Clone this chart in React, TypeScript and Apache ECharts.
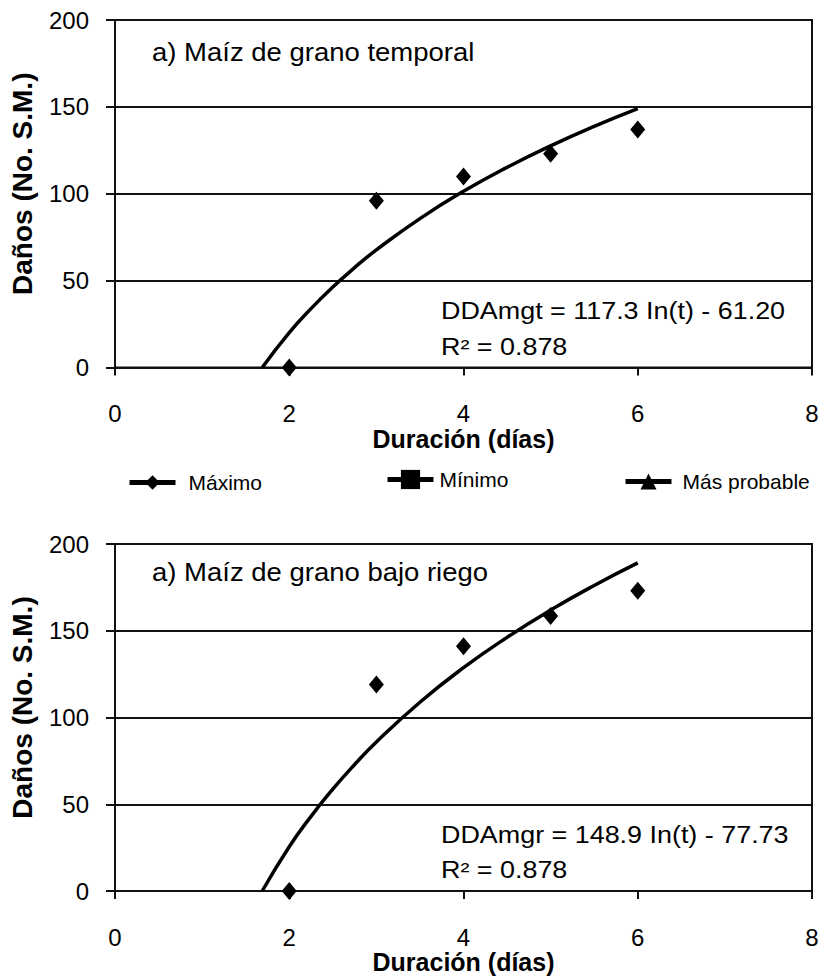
import React, { useEffect, useRef } from 'react';
import * as echarts from 'echarts';

// ---- data ----
const days = [2, 3, 4, 5, 6];
const maxTemporal = [0, 96, 110, 123, 137];
const maxRiego = [0, 119, 141, 158.5, 173];

// fitted trend curves
const trendDays = [1.69, 2, 2.25, 2.5, 2.75, 3, 3.5, 4, 4.5, 5, 5.5, 6];
const trendTemporal = [0, 20.1, 33.9, 46.3, 57.5, 67.7, 85.7, 101.4, 115.2, 127.6, 138.8, 149.0];
const trendRiego = [0, 25.5, 43.0, 58.7, 72.9, 85.9, 108.8, 128.7, 146.2, 161.9, 176.1, 189.1];

const legendNames = ['Máximo', 'Mínimo', 'Más probable'];
const panelTitles = ['a) Maíz de grano temporal', 'a) Maíz de grano bajo riego'];
const equations = ['DDAmgt = 117.3 In(t) - 61.20', 'DDAmgr = 148.9 In(t) - 77.73'];
const r2Labels = ['R² = 0.878', 'R² = 0.878'];
const xAxisTitle = 'Duración (días)';
const yAxisTitle = 'Daños (No. S.M.)';

const FONT = '"Liberation Sans", Arial, Helvetica, sans-serif';
const INK = '#111';

function makeX(gridIndex: number) {
  return {
    type: 'value',
    gridIndex,
    min: 0,
    max: 8,
    interval: 2,
    axisLine: { show: true, onZero: false, lineStyle: { color: INK, width: 2 } },
    axisTick: { show: true, inside: false, length: 8, lineStyle: { color: INK, width: 2 } },
    axisLabel: { margin: 34, fontSize: 24, color: '#000', fontFamily: FONT },
    splitLine: { show: false },
    name: xAxisTitle,
    nameLocation: 'middle',
    nameGap: 57,
    nameTextStyle: { fontSize: 25, fontWeight: 'bold', color: '#000', fontFamily: FONT },
  };
}

function makeY(gridIndex: number) {
  return {
    type: 'value',
    gridIndex,
    min: 0,
    max: 200,
    interval: 50,
    axisLine: { show: true, onZero: false, lineStyle: { color: INK, width: 2 } },
    axisTick: { show: true, inside: false, length: 9, lineStyle: { color: INK, width: 2 } },
    axisLabel: { margin: 26, fontSize: 24, color: '#000', fontFamily: FONT },
    splitLine: { show: true, lineStyle: { color: INK, width: 2 } },
    name: yAxisTitle,
    nameLocation: 'middle',
    nameGap: 79,
    nameRotate: 90,
    nameTextStyle: {
      fontSize: 28,
      fontWeight: 'bold',
      color: '#000',
      fontFamily: FONT,
      padding: [0, 0, 0, 20],
    },
  };
}

function maxSeries(idx: number, values: number[]) {
  return {
    name: legendNames[0],
    type: 'line',
    xAxisIndex: idx,
    yAxisIndex: idx,
    data: days.map((d, i) => [d, values[i]]),
    symbol: 'diamond',
    symbolSize: [15, 18],
    lineStyle: { width: 0, color: '#000' },
    itemStyle: { color: '#000' },
    clip: false,
    z: 4,
  };
}

function trendSeries(idx: number, values: number[]) {
  return {
    name: 'Tendencia ' + idx,
    type: 'line',
    xAxisIndex: idx,
    yAxisIndex: idx,
    data: trendDays.map((d, i) => [d, values[i]]),
    showSymbol: false,
    symbol: 'none',
    smooth: 0.5,
    lineStyle: { color: '#000', width: 3.5 },
    z: 3,
  };
}

function legendAt(name: string, left: number, itemHeight: number, textPad: number) {
  return {
    data: [name],
    left,
    top: 481 - itemHeight / 2,
    orient: 'horizontal',
    padding: 0,
    itemWidth: 46,
    itemHeight,
    selectedMode: false,
    lineStyle: { width: 5, color: '#000', opacity: 1 },
    itemStyle: { color: '#000', borderWidth: 0 },
    textStyle: { fontSize: 21, color: '#000', fontFamily: FONT, padding: [0, 0, 0, textPad] },
  };
}

export default function App() {
  const ref = useRef<HTMLDivElement>(null);

  useEffect(() => {
    if (!ref.current) return;
    const chart = echarts.init(ref.current, undefined, { renderer: 'svg' });
    const option: any = {
      animation: false,
      backgroundColor: '#fff',
      textStyle: { fontFamily: FONT },
      grid: [
        { left: 114, top: 20, width: 698, height: 347.5, show: true, borderColor: INK, borderWidth: 2, backgroundColor: 'transparent' },
        { left: 114, top: 544, width: 698, height: 347, show: true, borderColor: INK, borderWidth: 2, backgroundColor: 'transparent' },
      ],
      xAxis: [makeX(0), makeX(1)],
      yAxis: [makeY(0), makeY(1)],
      legend: [
        legendAt(legendNames[0], 127, 18, 8),
        legendAt(legendNames[1], 385, 24, 1),
        legendAt(legendNames[2], 623, 20, 6),
      ],
      series: [
        trendSeries(0, trendTemporal),
        trendSeries(1, trendRiego),
        maxSeries(0, maxTemporal),
        maxSeries(1, maxRiego),
        {
          name: legendNames[1],
          type: 'line',
          xAxisIndex: 0,
          yAxisIndex: 0,
          data: [],
          symbol: 'rect',
          itemStyle: { color: '#000' },
          lineStyle: { color: '#000', width: 4 },
        },
        {
          name: legendNames[2],
          type: 'line',
          xAxisIndex: 0,
          yAxisIndex: 0,
          data: [],
          symbol: 'triangle',
          itemStyle: { color: '#000' },
          lineStyle: { color: '#000', width: 4 },
        },
      ],
      graphic: [
        {
          type: 'text', x: 152, y: 52, scaleX: 1.057,
          style: { text: panelTitles[0], fontSize: 26, fontFamily: FONT, fill: '#000', align: 'left', verticalAlign: 'middle' },
        },
        {
          type: 'text', x: 152, y: 572, scaleX: 1.057,
          style: { text: panelTitles[1], fontSize: 26, fontFamily: FONT, fill: '#000', align: 'left', verticalAlign: 'middle' },
        },
        {
          type: 'text', x: 441, y: 311, scaleX: 1.17,
          style: { text: equations[0], fontSize: 23, fontFamily: FONT, fill: '#000', align: 'left', verticalAlign: 'middle' },
        },
        {
          type: 'text', x: 441, y: 347, scaleX: 1.17,
          style: { text: r2Labels[0], fontSize: 23, fontFamily: FONT, fill: '#000', align: 'left', verticalAlign: 'middle' },
        },
        {
          type: 'text', x: 441, y: 835, scaleX: 1.17,
          style: { text: equations[1], fontSize: 23, fontFamily: FONT, fill: '#000', align: 'left', verticalAlign: 'middle' },
        },
        {
          type: 'text', x: 441, y: 870, scaleX: 1.17,
          style: { text: r2Labels[1], fontSize: 23, fontFamily: FONT, fill: '#000', align: 'left', verticalAlign: 'middle' },
        },
      ],
    };
    chart.setOption(option);
    return () => chart.dispose();
  }, []);

  return (
    <div
      ref={ref}
      style={{ position: 'absolute', left: 0, top: 0, width: 823, height: 979, background: '#fff' }}
    />
  );
}
